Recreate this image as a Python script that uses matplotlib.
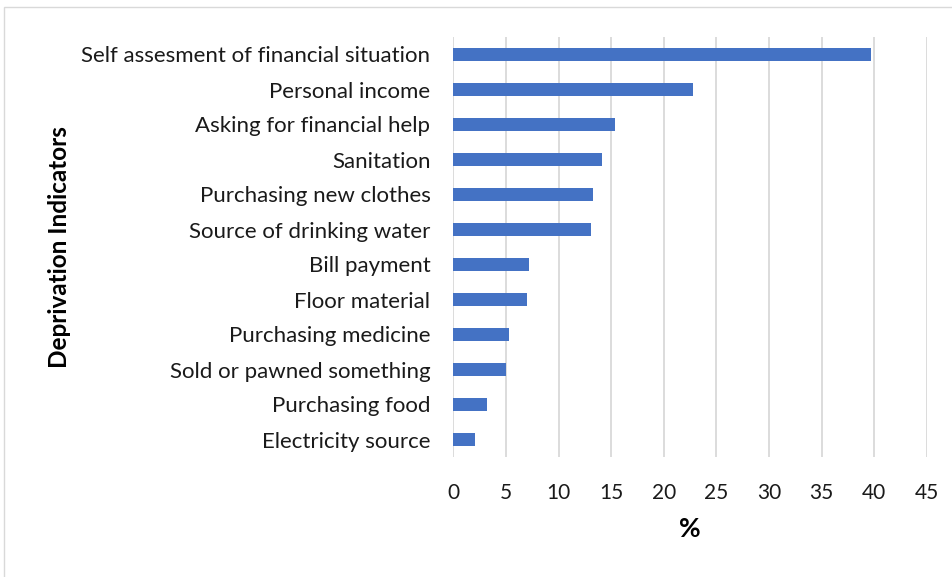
import matplotlib.pyplot as plt
from matplotlib.patches import Rectangle

indicators = [
    "Self assesment of financial situation",
    "Personal income",
    "Asking for financial help",
    "Sanitation",
    "Purchasing new clothes",
    "Source of drinking water",
    "Bill payment",
    "Floor material",
    "Purchasing medicine",
    "Sold or pawned something",
    "Purchasing food",
    "Electricity source",
]
percent = [39.7, 22.8, 15.4, 14.1, 13.3, 13.1, 7.2, 7.0, 5.3, 5.0, 3.2, 2.1]
xticks = [0, 5, 10, 15, 20, 25, 30, 35, 40, 45]

plt.rcParams['font.family'] = ['Lato', 'DejaVu Sans']

W, H = 953, 577
fig = plt.figure(figsize=(W / 100, H / 100), dpi=100)
ax = fig.add_axes([453.3 / W, 1 - 457 / H, (926.7 - 453.3) / W, (457 - 37) / H])

# chart frame
fig.patches.append(Rectangle((4 / W, -0.05), 1.2, 1 - 7 / H + 0.05,
                             transform=fig.transFigure, fill=False,
                             edgecolor='#d9d9d9', linewidth=1.0))

pos = list(range(len(indicators)))
ax.barh(pos, percent, height=0.35, color='#4472C4', zorder=3)
ax.set_ylim(len(indicators) - 0.5, -0.5)
ax.set_xlim(0, 45)
ax.set_xticks(xticks)
ax.set_yticks(pos)
ax.set_yticklabels(indicators, fontsize=16, color='#1a1a1a')
ax.tick_params(axis='x', labelsize=15, labelcolor='#1a1a1a', length=0, pad=19)
ax.tick_params(axis='y', length=0, pad=16.5)
ax.grid(axis='x', color='#d9d9d9', linewidth=1.3, zorder=0)
for s in ax.spines.values():
    s.set_visible(False)

ax.set_xlabel('%', fontsize=19, fontweight='bold', labelpad=10)
fig.text(60 / W, 1 - 247 / H, 'Deprivation Indicators', rotation=90,
         fontsize=17.5, fontweight='bold', ha='center', va='center')

fig.savefig('out.png', dpi=100)
